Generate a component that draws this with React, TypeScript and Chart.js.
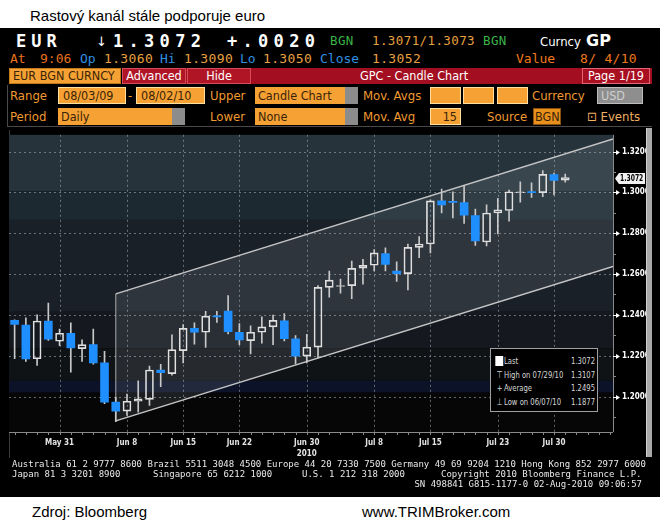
import React, { useEffect, useRef } from "react";
import { Chart, registerables } from "chart.js";

Chart.register(...registerables);

// ---------- DATA ----------
const dates = [
  "2010-05-25", "2010-05-26", "2010-05-27", "2010-05-28", "2010-05-31",
  "2010-06-01", "2010-06-02", "2010-06-03", "2010-06-04", "2010-06-07",
  "2010-06-08", "2010-06-09", "2010-06-10", "2010-06-11", "2010-06-14",
  "2010-06-15", "2010-06-16", "2010-06-17", "2010-06-18", "2010-06-21",
  "2010-06-22", "2010-06-23", "2010-06-24", "2010-06-25", "2010-06-28",
  "2010-06-29", "2010-06-30", "2010-07-01", "2010-07-02", "2010-07-05",
  "2010-07-06", "2010-07-07", "2010-07-08", "2010-07-09", "2010-07-12",
  "2010-07-13", "2010-07-14", "2010-07-15", "2010-07-16", "2010-07-19",
  "2010-07-20", "2010-07-21", "2010-07-22", "2010-07-23", "2010-07-26",
  "2010-07-27", "2010-07-28", "2010-07-29", "2010-07-30", "2010-08-02",
];
const opens = [
  1.2373, 1.2350, 1.2185, 1.2370, 1.2271, 1.2310, 1.2235, 1.2254, 1.2165, 1.1973,
  1.1929, 1.1977, 1.1986, 1.2130, 1.2112, 1.2225, 1.2334, 1.2315, 1.2395, 1.2419,
  1.2315, 1.2274, 1.2315, 1.2341, 1.2371, 1.2283, 1.2198, 1.2242, 1.2535, 1.2539,
  1.2543, 1.2629, 1.2643, 1.2700, 1.2615, 1.2602, 1.2731, 1.2747, 1.2958, 1.2955,
  1.2950, 1.2886, 1.2757, 1.2899, 1.2911, 1.2998, 1.3003, 1.2999, 1.3087, 1.3060,
];
const highs = [
  1.2376, 1.2386, 1.2400, 1.2458, 1.2331, 1.2361, 1.2278, 1.2331, 1.2222, 1.1996,
  1.2012, 1.2077, 1.2149, 1.2158, 1.2302, 1.2353, 1.2361, 1.2418, 1.2418, 1.2495,
  1.2358, 1.2347, 1.2390, 1.2399, 1.2406, 1.2299, 1.2305, 1.2543, 1.2615, 1.2575,
  1.2664, 1.2672, 1.2720, 1.2728, 1.2660, 1.2747, 1.2784, 1.2963, 1.3016, 1.3003,
  1.3035, 1.2918, 1.2939, 1.2971, 1.3011, 1.3052, 1.3047, 1.3107, 1.3095, 1.3090,
];
const lows = [
  1.2185, 1.2172, 1.2153, 1.2275, 1.2249, 1.2120, 1.2172, 1.2159, 1.1965, 1.1877,
  1.1908, 1.1924, 1.1957, 1.2048, 1.2105, 1.2165, 1.2257, 1.2241, 1.2363, 1.2307,
  1.2254, 1.2209, 1.2262, 1.2254, 1.2273, 1.2160, 1.2165, 1.2189, 1.2487, 1.2506,
  1.2480, 1.2551, 1.2615, 1.2615, 1.2564, 1.2522, 1.2680, 1.2704, 1.2899, 1.2875,
  1.2848, 1.2740, 1.2738, 1.2797, 1.2859, 1.2952, 1.2975, 1.2979, 1.2987, 1.3050,
];
const closes = [
  1.2353, 1.2184, 1.2370, 1.2281, 1.2310, 1.2238, 1.2254, 1.2165, 1.1973, 1.1929,
  1.1977, 1.1989, 1.2130, 1.2117, 1.2230, 1.2334, 1.2315, 1.2394, 1.2390, 1.2318,
  1.2278, 1.2315, 1.2341, 1.2373, 1.2284, 1.2198, 1.2242, 1.2535, 1.2570, 1.2541,
  1.2628, 1.2643, 1.2704, 1.2647, 1.2602, 1.2731, 1.2747, 1.2958, 1.2939, 1.2951,
  1.2888, 1.2762, 1.2899, 1.2915, 1.3003, 1.3002, 1.2999, 1.3088, 1.3059, 1.3072,
];
const xLabelDates = [
  "2010-05-31", "2010-06-08", "2010-06-15", "2010-06-22", "2010-06-30",
  "2010-07-08", "2010-07-15", "2010-07-23", "2010-07-30",
];
const xLabelTexts = ["May 31", "Jun 8", "Jun 15", "Jun 22", "Jun 30", "Jul 8", "Jul 15", "Jul 23", "Jul 30"];
const yearLabelDate = "2010-06-30";
const yearLabelText = "2010";
const priceTicks = [1.2, 1.22, 1.24, 1.26, 1.28, 1.3, 1.32];
const minorPriceTicks = [1.19, 1.21, 1.23, 1.25, 1.27, 1.29, 1.31];
const channelX = [9, 53.25];
const channelUpper = [1.2503, 1.3261];
const channelLower = [1.1881, 1.2637];
const legendLabels = ["Last", "High on 07/29/10", "Average", "Low on 06/07/10"];
const legendValues = ["1.3072", "1.3107", "1.2495", "1.1877"];

// ---------- STYLE ----------
const UI = '"DejaVu Sans Condensed","Liberation Sans Narrow","DejaVu Sans",sans-serif';
const MONO = '"DejaVu Sans Mono",monospace';
const ARIAL = '"Liberation Sans",Arial,sans-serif';
const ORANGE_LBL = "#f09a30";
const ORANGE_BOX = "#f5a133";
const RED = "#a30f20";
const BLUE = "#1f8fff";

const BANDS: [number, number, string][] = [
  [1.5, 1.3005, "#26333b"],
  [1.3005, 1.2865, "#1c2930"],
  [1.2865, 1.2415, "#1a2028"],
  [1.2415, 1.2236, "#15191f"],
  [1.2236, 1.2077, "#101316"],
  [1.2077, 1.2019, "#0c1328"],
  [1.2019, 1.0, "#060606"],
];

const idx = dates.map((_, i) => i);
const labelIdx = xLabelDates.map((d) => dates.indexOf(d));
const yearIdx = dates.indexOf(yearLabelDate);

const bbgPlugin = {
  id: "bbg",
  beforeDraw(chart: any) {
    const { ctx, chartArea: a, scales } = chart;
    const x = scales.x;
    const y = scales.y;
    ctx.save();
    for (const [hi, lo, col] of BANDS) {
      const t = Math.max(a.top, y.getPixelForValue(hi));
      const b = Math.min(a.bottom, y.getPixelForValue(lo));
      if (b > t) {
        ctx.fillStyle = col;
        ctx.fillRect(a.left, t, a.right - a.left, b - t);
      }
    }
    ctx.strokeStyle = "rgba(160,168,176,0.6)";
    ctx.lineWidth = 1;
    ctx.setLineDash([2, 3]);
    ctx.beginPath();
    for (const v of priceTicks) {
      const py = Math.round(y.getPixelForValue(v)) + 0.5;
      ctx.moveTo(a.left, py);
      ctx.lineTo(a.right, py);
    }
    for (const i of labelIdx) {
      const px = Math.round(x.getPixelForValue(i)) + 0.5;
      ctx.moveTo(px, a.top);
      ctx.lineTo(px, a.bottom);
    }
    ctx.stroke();
    ctx.restore();
  },
  afterDraw(chart: any) {
    const { ctx, chartArea: a, scales } = chart;
    const x = scales.x;
    const y = scales.y;
    ctx.save();
    ctx.strokeStyle = "#8a8a8a";
    ctx.lineWidth = 1;
    ctx.beginPath();
    ctx.moveTo(a.left, a.bottom + 0.5);
    ctx.lineTo(a.right, a.bottom + 0.5);
    for (let i = 0; i <= Math.floor(x.max); i++) {
      const px = Math.round(x.getPixelForValue(i)) + 0.5;
      ctx.moveTo(px, a.bottom);
      ctx.lineTo(px, a.bottom + 3);
    }
    ctx.moveTo(a.right + 0.5, a.top);
    ctx.lineTo(a.right + 0.5, a.bottom);
    for (const v of minorPriceTicks) {
      const py = Math.round(y.getPixelForValue(v)) + 0.5;
      if (py > a.top && py < a.bottom) {
        ctx.moveTo(a.right, py);
        ctx.lineTo(a.right + 3, py);
      }
    }
    ctx.stroke();
    ctx.fillStyle = "#ffffff";
    ctx.strokeStyle = "#ffffff";
    for (const v of priceTicks) {
      const py = Math.round(y.getPixelForValue(v)) + 0.5;
      ctx.beginPath();
      ctx.moveTo(a.right, py);
      ctx.lineTo(a.right + 4, py);
      ctx.stroke();
      ctx.beginPath();
      ctx.moveTo(a.right + 3, py - 2.5);
      ctx.lineTo(a.right + 7, py);
      ctx.lineTo(a.right + 3, py + 2.5);
      ctx.closePath();
      ctx.fill();
    }
    const last = closes[closes.length - 1];
    const py = Math.round(y.getPixelForValue(last)) + 0.5;
    const L = a.right + 2;
    const R = a.right + 32;
    ctx.fillStyle = "#f2f2f2";
    ctx.beginPath();
    ctx.moveTo(L, py);
    ctx.lineTo(L + 4, py - 5.5);
    ctx.lineTo(R, py - 5.5);
    ctx.lineTo(R, py + 5.5);
    ctx.lineTo(L + 4, py + 5.5);
    ctx.closePath();
    ctx.fill();
    ctx.fillStyle = "#000";
    ctx.font = `bold 8px ${UI}`;
    ctx.textBaseline = "middle";
    ctx.textAlign = "left";
    ctx.translate(L + 5, py + 0.5);
    ctx.scale(0.84, 1);
    ctx.fillText(last.toFixed(4), 0, 0);
    ctx.restore();
  },
};

// ---------- HELPERS ----------
function T(props: {
  x: number; y: number; c?: string; s?: number; f?: string; b?: boolean; ls?: number;
  w?: number; align?: "left" | "right" | "center"; children: React.ReactNode;
}) {
  const { x, y, c = "#fff", s = 12, f = UI, b = false, ls = 0, w, align, children } = props;
  const lh = s + 2;
  return (
    <div
      style={{
        position: "absolute", left: x, top: y - lh / 2, width: w, textAlign: align,
        fontSize: s, lineHeight: `${lh}px`, color: c, fontFamily: f,
        fontWeight: b ? 700 : 400, letterSpacing: ls, whiteSpace: "pre",
      }}
    >
      {children}
    </div>
  );
}

function Box(props: {
  x: number; y: number; w: number; h: number; bg: string; bd?: string; c?: string; s?: number;
  align?: "left" | "right" | "center"; pad?: number; f?: string; children?: React.ReactNode;
}) {
  const { x, y, w, h, bg, bd, c = "#3a2408", s = 12.5, align = "left", pad = 3, f = UI, children } = props;
  return (
    <div
      style={{
        position: "absolute", left: x, top: y, width: w, height: h, boxSizing: "border-box",
        background: bg, border: bd ? `1px solid ${bd}` : undefined, color: c, fontSize: s,
        fontFamily: f, lineHeight: `${h - (bd ? 2 : 0)}px`, textAlign: align,
        padding: `0 ${pad}px`, whiteSpace: "pre", overflow: "hidden",
      }}
    >
      {children}
    </div>
  );
}

const LEG_SX = 0.72;

export default function App() {
  const ref = useRef<HTMLCanvasElement>(null);

  useEffect(() => {
    const isUp = (i: number) => closes[i] >= opens[i];
    const chart = new Chart(ref.current as HTMLCanvasElement, {
      type: "bar",
      data: {
        datasets: [
          {
            type: "bar",
            label: "body",
            data: idx.map((i) => ({ x: i, y: [opens[i], closes[i]] })) as any,
            barThickness: 8,
            grouped: false,
            minBarLength: 1,
            borderSkipped: false,
            backgroundColor: (c: any) => (isUp(c.dataIndex) ? "rgba(0,0,0,0)" : BLUE),
            borderColor: (c: any) => (isUp(c.dataIndex) ? "#e0e0e0" : BLUE),
            borderWidth: (c: any) => (isUp(c.dataIndex) ? 1 : 0),
            order: 1,
          } as any,
          {
            type: "bar",
            label: "wickHigh",
            data: idx.map((i) => ({ x: i, y: [Math.max(opens[i], closes[i]), highs[i]] })) as any,
            barThickness: 1,
            grouped: false,
            backgroundColor: "#c8c8c8",
            order: 2,
          } as any,
          {
            type: "bar",
            label: "wickLow",
            data: idx.map((i) => ({ x: i, y: [lows[i], Math.min(opens[i], closes[i])] })) as any,
            barThickness: 1,
            grouped: false,
            backgroundColor: "#c8c8c8",
            order: 3,
          } as any,
          {
            type: "line",
            label: "channelUpper",
            data: channelX.map((x, k) => ({ x, y: channelUpper[k] })) as any,
            borderColor: "#c4c4c4",
            borderWidth: 1.5,
            pointRadius: 0,
            fill: "+1",
            backgroundColor: "rgba(215,225,235,0.11)",
            order: 5,
          } as any,
          {
            type: "line",
            label: "channelLower",
            data: channelX.map((x, k) => ({ x, y: channelLower[k] })) as any,
            borderColor: "#c4c4c4",
            borderWidth: 1.5,
            pointRadius: 0,
            fill: false,
            order: 6,
          } as any,
          {
            type: "line",
            label: "channelEdge",
            data: [
              { x: channelX[0], y: channelUpper[0] },
              { x: channelX[0], y: channelLower[0] },
            ] as any,
            borderColor: "rgba(200,200,200,0.35)",
            borderWidth: 1,
            pointRadius: 0,
            fill: false,
            order: 7,
          } as any,
        ],
      },
      options: {
        responsive: false,
        animation: false,
        events: [],
        layout: { padding: { left: 9, top: 2, right: 0, bottom: 0 } },
        plugins: { legend: { display: false }, tooltip: { enabled: false } },
        scales: {
          x: {
            type: "linear",
            min: -0.5,
            max: 53.25,
            offset: false,
            grid: { display: true, offset: false, color: "rgba(0,0,0,0)", drawTicks: true, tickLength: 4, tickColor: "rgba(0,0,0,0)" },
            border: { display: false },
            afterBuildTicks: (s: any) => {
              s.ticks = labelIdx.map((v) => ({ value: v }));
            },
            afterFit: (s: any) => {
              s.height = 28;
            },
            ticks: {
              autoSkip: false,
              maxRotation: 0,
              padding: 1,
              color: "#e4e4e4",
              font: { family: UI, size: 8, weight: "bold", lineHeight: 1.4 },
              callback: (v: any) => {
                const k = labelIdx.indexOf(Number(v));
                if (k < 0) return "";
                return Number(v) === yearIdx ? [xLabelTexts[k], yearLabelText] : xLabelTexts[k];
              },
            },
          } as any,
          y: {
            type: "linear",
            position: "right",
            min: 1.18265,
            max: 1.32819,
            beginAtZero: false,
            grid: { display: true, color: "rgba(0,0,0,0)", drawTicks: true, tickLength: 7, tickColor: "rgba(0,0,0,0)" },
            border: { display: false },
            afterBuildTicks: (s: any) => {
              s.ticks = priceTicks.map((v) => ({ value: v }));
            },
            afterFit: (s: any) => {
              s.width = 47;
            },
            ticks: {
              padding: 2,
              color: "#ffffff",
              font: { family: UI, size: 8, weight: "bold" },
              callback: (v: any) => Number(v).toFixed(4),
            },
          } as any,
        },
      } as any,
      plugins: [bbgPlugin as any],
    });
    return () => chart.destroy();
  }, []);

  return (
    <div style={{ position: "absolute", left: 0, top: 0, width: 660, height: 525, background: "#fff", overflow: "hidden" }}>
      <T x={30} y={15} c="#000" s={15} f={ARIAL}>Rastový kanál stále podporuje euro</T>
      <div style={{ position: "absolute", left: 0, top: 28, width: 660, height: 469, background: "#000" }} />

      {/* Row 1 */}
      <T x={16} y={41} s={17} f={MONO} b ls={5}>EUR</T>
      <T x={96} y={41} s={13} f={'"DejaVu Sans",sans-serif'}>↓</T>
      <T x={113} y={41} s={17} f={MONO} b ls={5.3}>1.3072</T>
      <T x={227} y={41} s={17} f={MONO} b ls={5.3}>+.0020</T>
      <T x={330} y={41} s={12.5} f={MONO} c="#3cb54a" ls={0.4}>BGN</T>
      <T x={372} y={41} s={12.5} f={MONO} c="#e8a040" ls={0.4}>1.3071/1.3073</T>
      <T x={483} y={41} s={12.5} f={MONO} c="#3cb54a" ls={0.4}>BGN</T>
      <T x={540} y={41} s={13} c="#ffffff">Curncy</T>
      <T x={586} y={41} s={16} b c="#ffffff" f={'"DejaVu Sans",sans-serif'}>GP</T>

      {/* Row 2 */}
      <T x={10} y={58} s={13} f={MONO} c="#e8701c">At</T>
      <T x={40} y={58} s={13} f={MONO} c="#e8701c">9:06</T>
      <T x={80} y={58} s={13} f={MONO} c="#2f8fe0">Op</T>
      <T x={104} y={58} s={13} f={MONO} c="#e8a040" ls={0.35}>1.3060</T>
      <T x={160} y={58} s={13} f={MONO} c="#2f8fe0">Hi</T>
      <T x={184} y={58} s={13} f={MONO} c="#e8a040" ls={0.35}>1.3090</T>
      <T x={240} y={58} s={13} f={MONO} c="#2f8fe0">Lo</T>
      <T x={263} y={58} s={13} f={MONO} c="#e8a040" ls={0.35}>1.3050</T>
      <T x={320} y={58} s={13} f={MONO} c="#2f8fe0">Close</T>
      <T x={372} y={58} s={13} f={MONO} c="#e8a040" ls={0.35}>1.3052</T>
      <T x={516} y={58} s={13} f={MONO} c="#f07818">Value</T>
      <T x={580} y={58} s={13} f={MONO} c="#f07818" ls={0.3}>8/ 4/10</T>

      {/* Row 3 */}
      <Box x={9} y={68} w={112} h={16} bg={ORANGE_BOX} bd="#c07818">EUR BGN CURNCY</Box>
      <div style={{ position: "absolute", left: 122, top: 68, width: 530, height: 16, background: RED }} />
      <Box x={122} y={68} w={64} h={16} bg="#b01526" bd="#d64a5a" c="#fff" align="center">Advanced</Box>
      <Box x={187} y={68} w={64} h={16} bg="#b01526" bd="#d64a5a" c="#fff" align="center">Hide</Box>
      <T x={360} y={76} s={12.5} c="#ffffff">GPC - Candle Chart</T>
      <Box x={582} y={68} w={68} h={16} bg="#a80f20" bd="#e06575" c="#fff" align="center">Page 1/19</Box>

      {/* Panel border */}
      <div style={{ position: "absolute", left: 7, top: 85, width: 645, height: 42, borderLeft: "1px solid #4a4a4a", borderBottom: "1px solid #4a4a4a", boxSizing: "border-box" }} />

      {/* Row 4 */}
      <T x={10} y={95.5} s={13} c={ORANGE_LBL}>Range</T>
      <Box x={58} y={87} w={68} h={17} bg={ORANGE_BOX} bd="#ffe0a0" pad={4}>08/03/09</Box>
      <T x={128} y={95.5} s={13} c={ORANGE_LBL}>-</T>
      <Box x={136} y={87} w={69} h={17} bg={ORANGE_BOX} bd="#ffe0a0" pad={4}>08/02/10</Box>
      <T x={210} y={95.5} s={13} c={ORANGE_LBL}>Upper</T>
      <Box x={255} y={87} w={90} h={17} bg={ORANGE_BOX}>Candle Chart</Box>
      <div style={{ position: "absolute", left: 345, top: 87, width: 13, height: 17, background: "#8c8c8c" }} />
      <T x={363} y={95.5} s={13} c={ORANGE_LBL}>Mov. Avgs</T>
      <Box x={430} y={87} w={31} h={17} bg={ORANGE_BOX} bd="#ffe0a0" />
      <Box x={463} y={87} w={31} h={17} bg={ORANGE_BOX} bd="#ffe0a0" />
      <Box x={497} y={87} w={31} h={17} bg={ORANGE_BOX} bd="#ffe0a0" />
      <T x={532} y={95.5} s={13} c={ORANGE_LBL}>Currency</T>
      <Box x={597} y={87} w={46} h={17} bg="#8e8e8e" bd="#bdbdbd" c="#cfcfcf">USD</Box>

      {/* Row 5 */}
      <T x={10} y={116.5} s={13} c={ORANGE_LBL}>Period</T>
      <Box x={58} y={108} w={114} h={17} bg={ORANGE_BOX}>Daily</Box>
      <div style={{ position: "absolute", left: 172, top: 108, width: 13, height: 17, background: "#8c8c8c" }} />
      <T x={210} y={116.5} s={13} c={ORANGE_LBL}>Lower</T>
      <Box x={255} y={108} w={90} h={17} bg={ORANGE_BOX}>None</Box>
      <div style={{ position: "absolute", left: 345, top: 108, width: 13, height: 17, background: "#8c8c8c" }} />
      <T x={363} y={116.5} s={13} c={ORANGE_LBL}>Mov. Avg</T>
      <Box x={430} y={108} w={31} h={17} bg={ORANGE_BOX} bd="#ffe0a0" align="right">15</Box>
      <T x={487} y={116.5} s={13} c={ORANGE_LBL}>Source</T>
      <Box x={533} y={108} w={28} h={17} bg="#e8901c" bd="#8a5010" pad={1}>BGN</Box>
      <T x={587} y={116.5} s={13} c="#f0b060">⊡ Events</T>

      {/* chart */}
      <div style={{ position: "absolute", left: 9, top: 130, width: 1, height: 328, background: "#3a3a3a" }} />
      <canvas ref={ref} width={660} height={332} style={{ position: "absolute", left: 0, top: 128, width: 660, height: 332 }} />
      <div style={{ position: "absolute", left: 646, top: 128, width: 6, height: 329, background: "#a9a9a9", borderLeft: "1px solid #d0d0d0", boxSizing: "border-box" }} />

      {/* legend box */}
      <div style={{ position: "absolute", left: 490, top: 348, width: 108, height: 64, background: "#000", border: "1px solid #a0a0a0", boxSizing: "border-box", overflow: "hidden" }}>
        {legendLabels.map((lab, k) => (
          <div
            key={lab}
            style={{
              position: "absolute", left: 0, top: 5 + k * 13.5, width: 106 / LEG_SX, height: 13,
              transform: `scaleX(${LEG_SX})`, transformOrigin: "0 0",
              fontFamily: '"DejaVu Sans",sans-serif', fontSize: 9.5, lineHeight: "13px", color: "#d8d8d8", whiteSpace: "pre",
            }}
          >
            <span style={{ position: "absolute", left: 4 / LEG_SX, top: 0, width: 9 / LEG_SX, textAlign: "center" }}>
              {k === 0 ? <span style={{ display: "inline-block", width: 8 / LEG_SX, height: 10, background: "#fff", marginTop: 1.5 }} /> : k === 1 ? "⊤" : k === 2 ? "+" : "⊥"}
            </span>
            <span style={{ position: "absolute", left: 13 / LEG_SX, top: 0 }}>{lab}</span>
            <span style={{ position: "absolute", right: 2 / LEG_SX, top: 0 }}>{legendValues[k]}</span>
          </div>
        ))}
      </div>

      {/* footer */}
      <T x={12} y={464} s={9} f={MONO} c="#e8e8e8">Australia 61 2 9777 8600 Brazil 5511 3048 4500 Europe 44 20 7330 7500 Germany 49 69 9204 1210 Hong Kong 852 2977 6000</T>
      <T x={12} y={474} s={9} f={MONO} c="#e8e8e8">Japan 81 3 3201 8900</T>
      <T x={153} y={474} s={9} f={MONO} c="#e8e8e8">Singapore 65 6212 1000</T>
      <T x={302} y={474} s={9} f={MONO} c="#e8e8e8">U.S. 1 212 318 2000</T>
      <T x={441} y={474} s={9} f={MONO} c="#e8e8e8">Copyright 2010 Bloomberg Finance L.P.</T>
      <T x={300} y={484} s={9} f={MONO} c="#e8e8e8" w={342} align="right">SN 498841 G815-1177-0 02-Aug-2010 09:06:57</T>

      <T x={32} y={511} c="#000" s={15} f={ARIAL}>Zdroj: Bloomberg</T>
      <T x={362} y={511} c="#000" s={15} f={ARIAL}>www.TRIMBroker.com</T>
    </div>
  );
}
